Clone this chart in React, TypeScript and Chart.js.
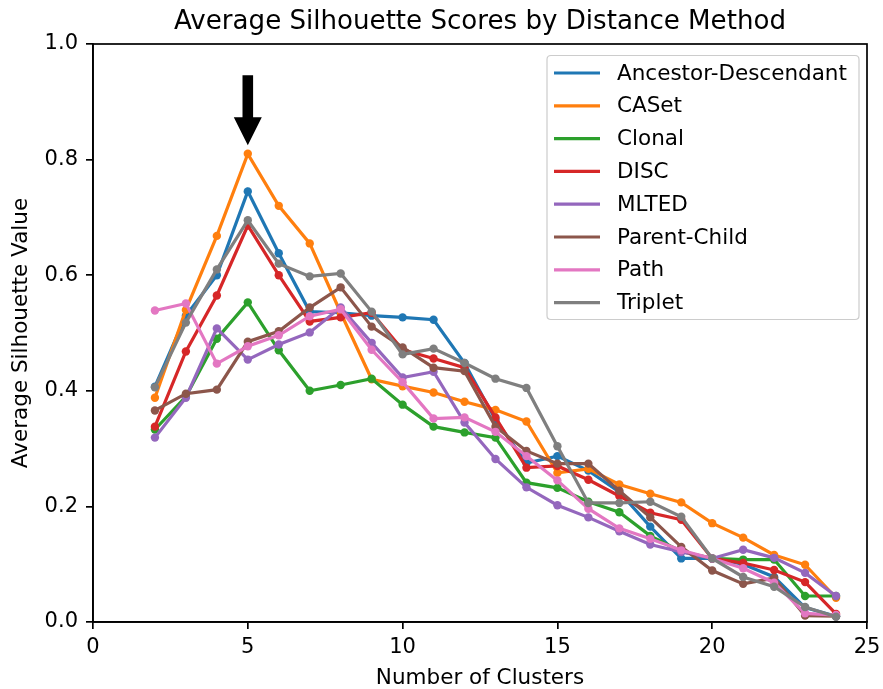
import React, { useEffect, useRef } from "react";
import { Chart, registerables } from "chart.js";

Chart.register(...registerables);

const TITLE = "Average Silhouette Scores by Distance Method";
const X_LABEL = "Number of Clusters";
const Y_LABEL = "Average Silhouette Value";

const clusters = [2, 3, 4, 5, 6, 7, 8, 9, 10, 11, 12, 13, 14, 15, 16, 17, 18, 19, 20, 21, 22, 23, 24];

const ancestorDescendant = [0.407, 0.530, 0.600, 0.745, 0.638, 0.537, 0.535, 0.530, 0.527, 0.523, 0.448, 0.350, 0.275, 0.287, 0.262, 0.225, 0.165, 0.110, 0.110, 0.100, 0.078, 0.025, 0.010];
const caset = [0.388, 0.540, 0.668, 0.810, 0.720, 0.655, 0.535, 0.420, 0.408, 0.397, 0.381, 0.367, 0.347, 0.258, 0.265, 0.238, 0.222, 0.207, 0.171, 0.146, 0.116, 0.099, 0.042];
const clonal = [0.333, 0.390, 0.490, 0.553, 0.470, 0.400, 0.410, 0.421, 0.376, 0.338, 0.328, 0.319, 0.241, 0.232, 0.208, 0.190, 0.149, 0.122, 0.110, 0.108, 0.108, 0.045, 0.045];
const disc = [0.338, 0.468, 0.565, 0.686, 0.600, 0.520, 0.527, 0.535, 0.471, 0.456, 0.440, 0.354, 0.267, 0.270, 0.246, 0.218, 0.189, 0.177, 0.110, 0.102, 0.090, 0.069, 0.014];
const mlted = [0.319, 0.388, 0.508, 0.454, 0.480, 0.501, 0.544, 0.483, 0.423, 0.433, 0.345, 0.282, 0.233, 0.202, 0.181, 0.157, 0.134, 0.121, 0.110, 0.125, 0.111, 0.085, 0.045];
const parentChild = [0.366, 0.395, 0.402, 0.485, 0.503, 0.544, 0.579, 0.511, 0.475, 0.440, 0.434, 0.338, 0.296, 0.274, 0.274, 0.227, 0.181, 0.130, 0.089, 0.066, 0.076, 0.011, 0.010];
const path = [0.539, 0.551, 0.447, 0.477, 0.496, 0.529, 0.541, 0.471, 0.415, 0.352, 0.354, 0.329, 0.287, 0.245, 0.196, 0.162, 0.144, 0.124, 0.110, 0.093, 0.068, 0.015, 0.012];
const triplet = [0.406, 0.518, 0.610, 0.695, 0.620, 0.598, 0.603, 0.537, 0.463, 0.473, 0.448, 0.421, 0.405, 0.304, 0.206, 0.206, 0.208, 0.182, 0.110, 0.078, 0.061, 0.026, 0.009];

const seriesNames = ["Ancestor-Descendant", "CASet", "Clonal", "DISC", "MLTED", "Parent-Child", "Path", "Triplet"];
const seriesValues = [ancestorDescendant, caset, clonal, disc, mlted, parentChild, path, triplet];
const seriesColors = ["#1f77b4", "#ff7f0e", "#2ca02c", "#d62728", "#9467bd", "#8c564b", "#e377c2", "#7f7f7f"];

// Arrow annotation (data coordinates)
const arrowX = 5;
const arrowYStart = 0.946;
const arrowYEnd = 0.825;

const FONT = "'DejaVu Sans', sans-serif";

const framePlugin = {
  id: "frameAndExtras",
  afterDatasetsDraw(chart: any) {
    const { ctx, scales } = chart;
    const ax = scales.x.getPixelForValue(arrowX);
    const ay0 = scales.y.getPixelForValue(arrowYStart);
    const ay1 = scales.y.getPixelForValue(arrowYEnd);
    const headLen = 28;
    const headHalf = 14;
    const shaftHalf = 5.3;
    ctx.save();
    ctx.fillStyle = "#000";
    ctx.beginPath();
    ctx.moveTo(ax - shaftHalf, ay0);
    ctx.lineTo(ax + shaftHalf, ay0);
    ctx.lineTo(ax + shaftHalf, ay1 - headLen);
    ctx.lineTo(ax + headHalf, ay1 - headLen);
    ctx.lineTo(ax, ay1);
    ctx.lineTo(ax - headHalf, ay1 - headLen);
    ctx.lineTo(ax - shaftHalf, ay1 - headLen);
    ctx.closePath();
    ctx.fill();
    ctx.restore();
  },
  afterDraw(chart: any) {
    const { ctx, chartArea } = chart;
    ctx.save();
    // title centred over the plot area
    ctx.fillStyle = "#000";
    ctx.font = `26.1px ${FONT}`;
    ctx.textAlign = "center";
    ctx.textBaseline = "middle";
    ctx.fillText(TITLE, (chartArea.left + chartArea.right) / 2, 22.5);

    // frame
    ctx.strokeStyle = "#000";
    ctx.lineWidth = 1.7;
    ctx.strokeRect(chartArea.left, chartArea.top, chartArea.right - chartArea.left, chartArea.bottom - chartArea.top);

    // legend
    const lw = 312;
    const rowH = 32.8;
    const lx = chartArea.right - 8 - lw;
    const ly = chartArea.top + 11.5;
    const lh = 264;
    const r = 4;
    ctx.beginPath();
    ctx.moveTo(lx + r, ly);
    ctx.lineTo(lx + lw - r, ly);
    ctx.quadraticCurveTo(lx + lw, ly, lx + lw, ly + r);
    ctx.lineTo(lx + lw, ly + lh - r);
    ctx.quadraticCurveTo(lx + lw, ly + lh, lx + lw - r, ly + lh);
    ctx.lineTo(lx + r, ly + lh);
    ctx.quadraticCurveTo(lx, ly + lh, lx, ly + lh - r);
    ctx.lineTo(lx, ly + r);
    ctx.quadraticCurveTo(lx, ly, lx + r, ly);
    ctx.closePath();
    ctx.fillStyle = "rgba(255,255,255,0.8)";
    ctx.fill();
    ctx.strokeStyle = "#cccccc";
    ctx.lineWidth = 1.2;
    ctx.stroke();

    ctx.font = `21.5px ${FONT}`;
    ctx.textBaseline = "middle";
    ctx.textAlign = "left";
    seriesNames.forEach((name, i) => {
      const cy = ly + 17.5 + i * rowH;
      ctx.strokeStyle = seriesColors[i];
      ctx.lineWidth = 3.2;
      ctx.beginPath();
      ctx.moveTo(lx + 7, cy);
      ctx.lineTo(lx + 53, cy);
      ctx.stroke();
      ctx.fillStyle = "#000";
      ctx.fillText(name, lx + 70, cy + 1);
    });
    ctx.restore();
  },
};

export default function App() {
  const ref = useRef<HTMLCanvasElement | null>(null);

  useEffect(() => {
    document.body.style.margin = "0";
    const canvas = ref.current;
    if (!canvas) return;
    const datasets = seriesNames.map((name, i) => ({
      label: name,
      data: clusters.map((c, j) => ({ x: c, y: seriesValues[i][j] })),
      borderColor: seriesColors[i],
      backgroundColor: seriesColors[i],
      borderWidth: 3.2,
      pointRadius: 4.2,
      pointBorderWidth: 0,
      pointBackgroundColor: seriesColors[i],
      tension: 0,
      fill: false,
      order: seriesNames.length - 1 - i,
    }));

    const chart = new Chart(canvas, {
      type: "line",
      data: { datasets },
      options: {
        responsive: false,
        animation: false,
        devicePixelRatio: 1,
        layout: { padding: { left: 0, right: 16, top: 44, bottom: 0 } },
        plugins: {
          legend: { display: false },
          tooltip: { enabled: false },
          title: { display: false },
        },
        scales: {
          x: {
            type: "linear",
            min: 0,
            max: 25,
            afterFit(scale: any) {
              scale.height = 67;
              scale.paddingLeft = 0;
              scale.paddingRight = 0;
            },
            ticks: {
              stepSize: 5,
              autoSkip: false,
              maxRotation: 0,
              color: "#000",
              padding: 6,
              font: { family: FONT, size: 21 },
            },
            grid: {
              display: true,
              drawOnChartArea: false,
              drawTicks: true,
              tickLength: 7,
              color: "#000",
              lineWidth: 1.7,
            },
            border: { display: true, color: "#000", width: 1.7 },
            title: {
              display: true,
              text: X_LABEL,
              color: "#000",
              font: { family: FONT, size: 21.5, lineHeight: 1 },
              padding: { top: 0, bottom: 0 },
            },
          },
          y: {
            type: "linear",
            min: 0,
            max: 1,
            afterFit(scale: any) {
              scale.width = 93;
              scale.paddingTop = 0;
              scale.paddingBottom = 0;
            },
            ticks: {
              stepSize: 0.2,
              color: "#000",
              padding: 8,
              font: { family: FONT, size: 21 },
              callback: (v: any) => Number(v).toFixed(1),
            },
            grid: {
              display: true,
              drawOnChartArea: false,
              drawTicks: true,
              tickLength: 7,
              color: "#000",
              lineWidth: 1.7,
            },
            border: { display: true, color: "#000", width: 1.7 },
            title: {
              display: true,
              text: Y_LABEL,
              color: "#000",
              font: { family: FONT, size: 21.5, lineHeight: 1 },
              padding: { top: 11, bottom: 0 },
            },
          },
        },
      },
      plugins: [framePlugin],
    } as any);

    return () => {
      chart.destroy();
    };
  }, []);

  return <canvas ref={ref} width={883} height={689} style={{ display: "block", width: 883, height: 689 }} />;
}
